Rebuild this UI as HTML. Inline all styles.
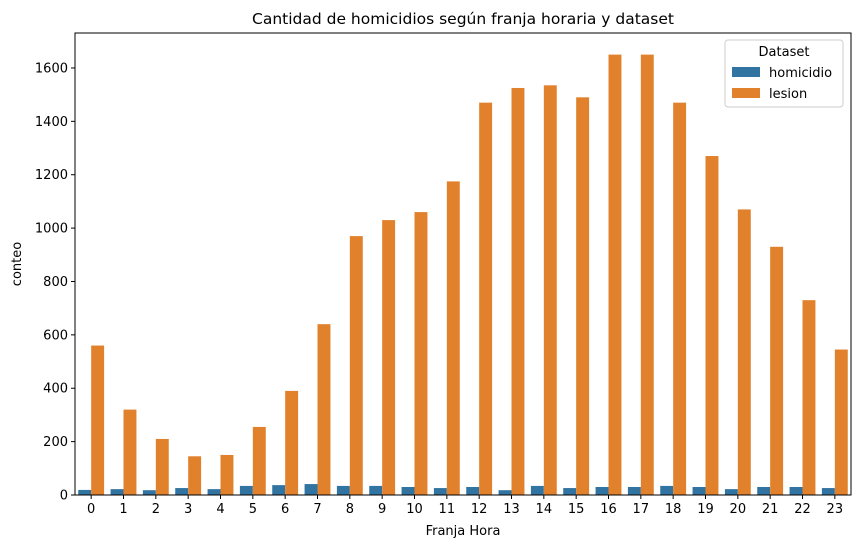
<!DOCTYPE html>
<html><head><meta charset="utf-8"><style>
body{margin:0;background:#fff;font-family:"DejaVu Sans","Liberation Sans",sans-serif}
svg text{font-family:"DejaVu Sans","Liberation Sans",sans-serif;fill:#000}
</style></head><body>
<svg id="c" width="859" height="548"></svg>
<script>
const categories=["0","1","2","3","4","5","6","7","8","9","10","11","12","13","14","15","16","17","18","19","20","21","22","23"];
const homicidio=[19,22,18,26,22,34,37,41,34,34,30,26,30,18,34,26,30,30,34,30,22,30,30,26];
const lesion=[560,320,210,145,150,255,390,640,970,1030,1060,1175,1470,1525,1535,1490,1650,1650,1470,1270,1070,930,730,545];
const yTicks=[0,200,400,600,800,1000,1200,1400,1600];
const NS="http://www.w3.org/2000/svg",svg=document.getElementById('c');
const L=75,R=851,T=33,B=495,yMax=1731;
const y=v=>B-(v/yMax)*(B-T);
const gw=(R-L)/categories.length;
const x=i=>L+gw*(i+0.5);
function mk(t,a,p){const e=document.createElementNS(NS,t);for(const k in a)e.setAttribute(k,a[k]);(p||svg).appendChild(e);return e;}
const bw=gw*0.4;
categories.forEach((c,i)=>{
 let b=mk('rect',{x:x(i)-bw,y:y(homicidio[i]),width:bw,height:B-y(homicidio[i]),fill:'#3274a1'});
 
 
 let b2=mk('rect',{x:x(i),y:y(lesion[i]),width:bw,height:B-y(lesion[i]),fill:'#e1812c'});
 
 
 mk('line',{x1:x(i),x2:x(i),y1:B,y2:B+4,stroke:'#000'});
 let t=mk('text',{x:x(i),y:B+18,'text-anchor':'middle','font-size':13});t.textContent=c;
 
 
});
yTicks.forEach(v=>{
 mk('line',{x1:L-4,x2:L,y1:y(v),y2:y(v),stroke:'#000'});
 let t=mk('text',{x:L-7,y:y(v)+4.5,'text-anchor':'end','font-size':13});t.textContent=v;
 
 
});
let fr=mk('rect',{x:L,y:T,width:R-L,height:B-T,fill:'none',stroke:'#000','stroke-width':1});


let tt=mk('text',{x:(L+R)/2,y:24,'text-anchor':'middle','font-size':15.5});tt.textContent='Cantidad de homicidios según franja horaria y dataset';


let xl=mk('text',{x:(L+R)/2,y:535,'text-anchor':'middle','font-size':13});xl.textContent='Franja Hora';


let yl=mk('text',{x:21,y:264,'text-anchor':'middle','font-size':13,transform:'rotate(-90 21 264)'});yl.textContent='conteo';


const g=mk('g',{});


mk('rect',{x:725,y:40,width:118,height:67,rx:3,fill:'#fff',stroke:'#ccc'},g);
let lt=mk('text',{x:784,y:56,'text-anchor':'middle','font-size':13},g);lt.textContent='Dataset';
[['homicidio','#3274a1',67],['lesion','#e1812c',88]].forEach(([n,c,yy])=>{
 mk('rect',{x:732,y:yy,width:28,height:10,fill:c},g);
 let t=mk('text',{x:769,y:yy+10,'font-size':13},g);t.textContent=n;
 
 
});
</script>
</body></html>
